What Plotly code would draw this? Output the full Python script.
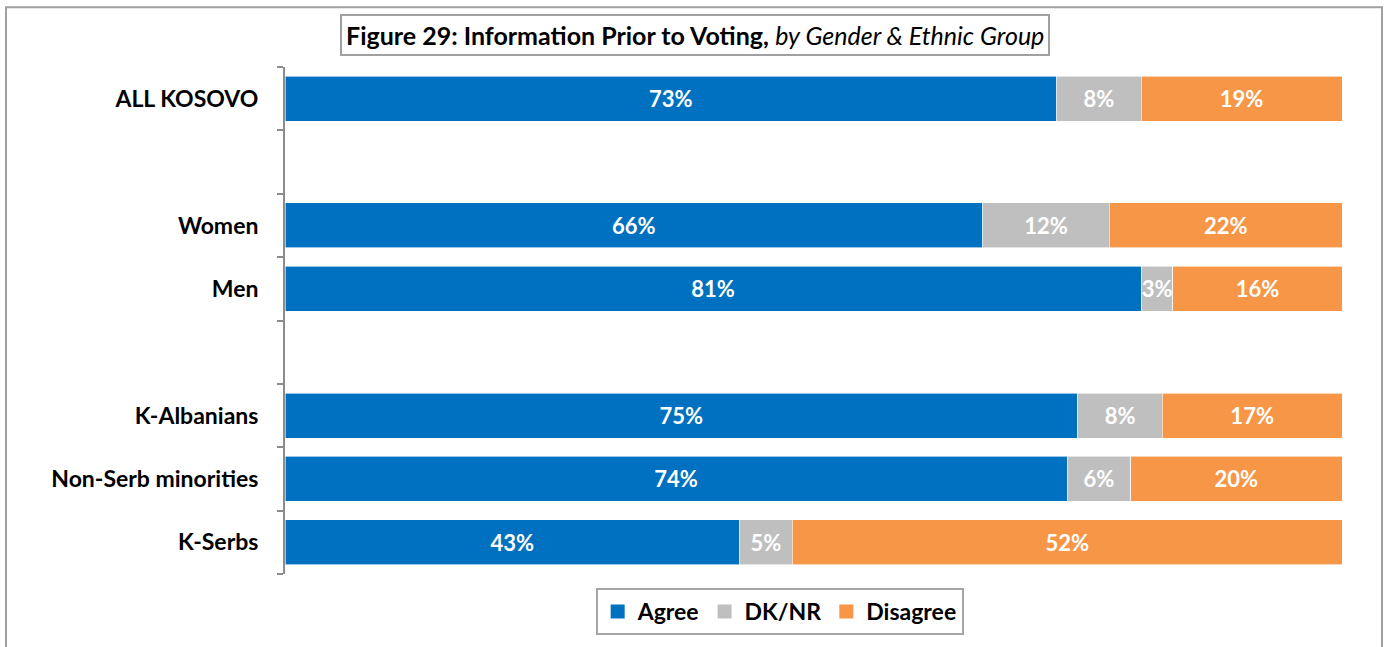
import plotly.graph_objects as go

# Rows from top to bottom; None marks an empty spacer row between groups
categories = ["ALL KOSOVO", None, "Women", "Men", None,
              "K-Albanians", "Non-Serb minorities", "K-Serbs"]
agree = [73, None, 66, 81, None, 75, 74, 43]
dknr = [8, None, 12, 3, None, 8, 6, 5]
disagree = [19, None, 22, 16, None, 17, 20, 52]

series = [
    ("Agree", agree, "#0070C0"),
    ("DK/NR", dknr, "#BFBFBF"),
    ("Disagree", disagree, "#F79646"),
]

FONT = "Lato"
rows = list(range(len(categories)))
filled = [i for i, c in enumerate(categories) if c is not None]

fig = go.Figure()
for name, vals, color in series:
    fig.add_trace(go.Bar(
        name=name,
        orientation="h",
        y=[rows[i] for i in filled],
        x=[vals[i] for i in filled],
        text=[f"{vals[i]}%" for i in filled],
        textposition="inside",
        textangle=0,
        insidetextanchor="middle",
        textfont=dict(family=FONT, size=22, color="white", weight="bold"),
        marker=dict(color=color, line=dict(color="white", width=0.6)),
        width=0.71,
        hoverinfo="skip",
        showlegend=False,
    ))
    # legend entry with a larger square swatch
    fig.add_trace(go.Scatter(
        name=name, x=[None], y=[None], mode="markers",
        marker=dict(symbol="square", size=14, color=color),
        hoverinfo="skip",
    ))

fig.update_layout(
    barmode="stack",
    width=1385, height=647,
    margin=dict(l=285, r=43, t=67, b=71),
    plot_bgcolor="white", paper_bgcolor="white",
    uniformtext=dict(minsize=22, mode="show"),
    font=dict(family=FONT, color="black"),
    showlegend=True,
    legend=dict(
        orientation="h",
        x=0.468, xanchor="center",
        y=-0.0275, yanchor="top",
        bordercolor="#A6A6A6", borderwidth=2,
        font=dict(family=FONT, size=23, color="black", weight="bold"),
        itemwidth=30,
        traceorder="normal",
    ),
    xaxis=dict(range=[0, 100], visible=False, fixedrange=True),
    yaxis=dict(
        range=[len(categories) - 0.5, -0.5],
        tickmode="array",
        tickvals=filled,
        ticktext=[categories[i] for i in filled],
        ticks="",
        ticklabelstandoff=20,
        tickfont=dict(family=FONT, size=23, color="black", weight="bold"),
        showline=True, linecolor="#8C8C8C", linewidth=2,
        showgrid=False, zeroline=False,
        minor=dict(
            tickmode="array",
            tickvals=[r - 0.5 for r in rows] + [len(rows) - 0.5],
            ticks="outside", ticklen=6, tickwidth=2, tickcolor="#8C8C8C",
            showgrid=False,
        ),
    ),
)

# Title box
fig.add_annotation(
    xref="paper", yref="paper", x=0.388, y=1.063,
    xanchor="center", yanchor="middle", showarrow=False,
    text="<b>Figure 29: Information Prior to Voting,</b> <i>by Gender &amp; Ethnic Group</i>",
    font=dict(family=FONT, size=25, color="black"),
    bordercolor="#A0A0A0", borderwidth=2, borderpad=4, bgcolor="white",
)

# Outer frame around the whole chart
fig.add_shape(
    type="rect", xref="paper", yref="paper",
    x0=(6 - 285) / 1057, x1=(1382 - 285) / 1057,
    y0=(576 - 680) / 509, y1=(576 - 7) / 509,
    line=dict(color="#A0A0A0", width=2), layer="below",
)

fig.write_html("out.html")
